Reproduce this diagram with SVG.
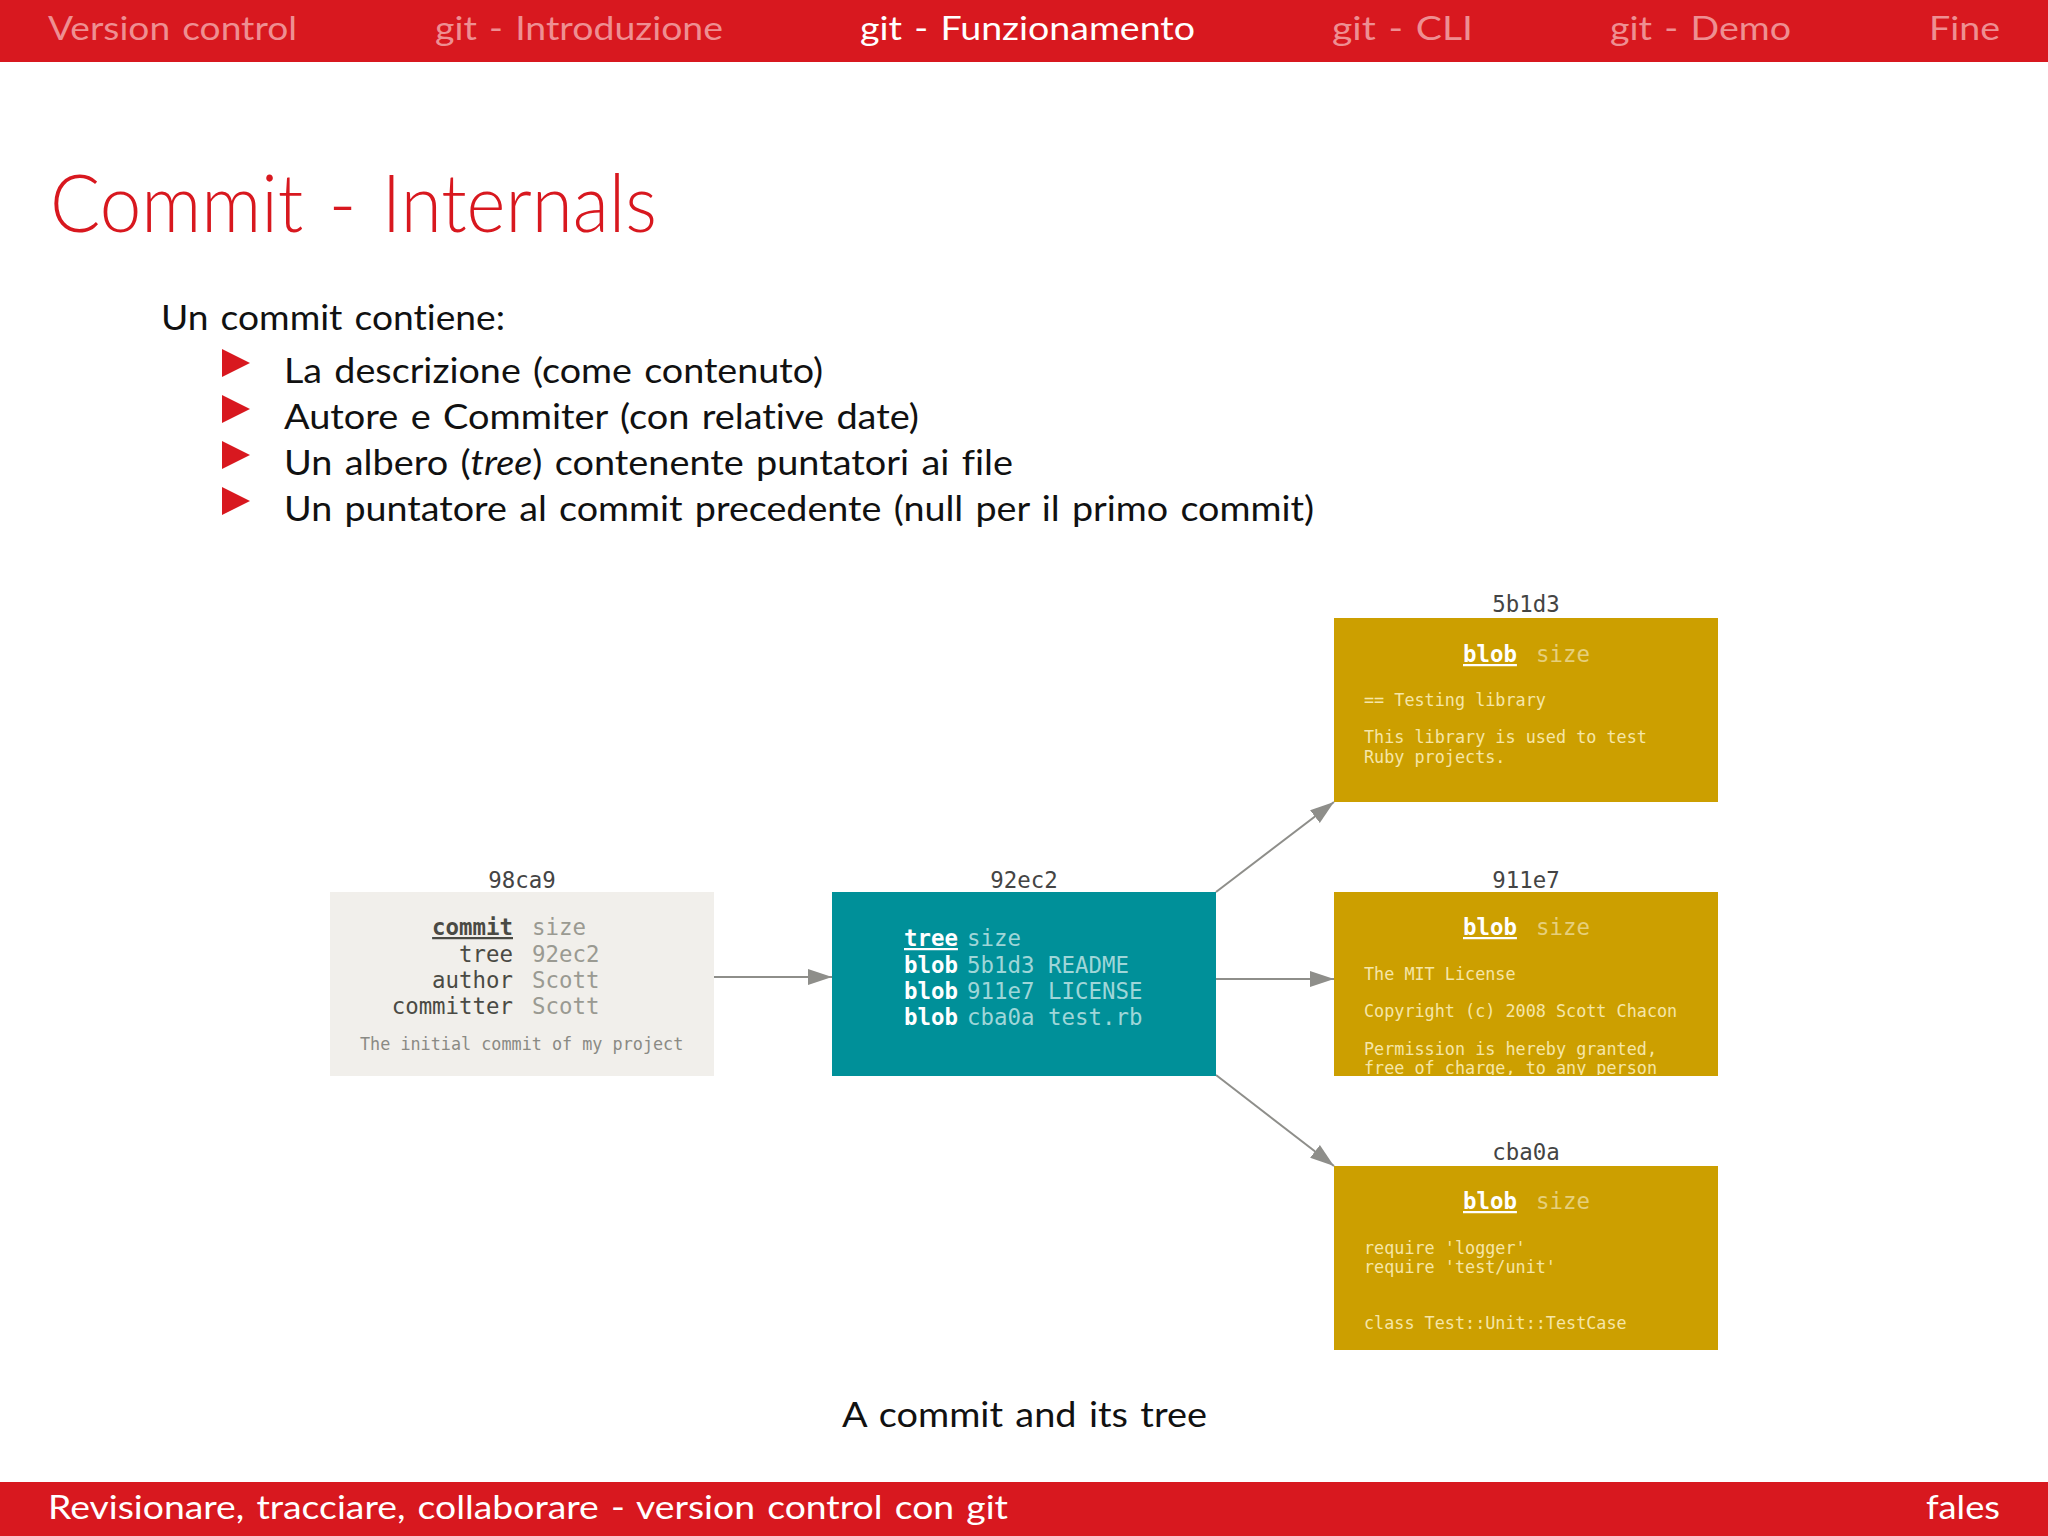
<svg xmlns="http://www.w3.org/2000/svg" width="2048" height="1536" viewBox="0 0 2048 1536">
<style>
.s{font-family:"Lato","Liberation Sans",sans-serif;font-variant-ligatures:none;word-spacing:.07em}
.nav{font-size:33px;fill:#ee8f92}
.body{font-size:34px;fill:#111}
.m{font-family:"DejaVu Sans Mono","Liberation Mono",monospace}
.lab{font-size:22.4px;fill:#444;text-anchor:middle}
.h{font-size:22.4px}
.t{font-size:16.8px}
.b{font-weight:bold;text-decoration:underline}
.gt{fill:#f6e6a8}
.gs{fill:#e6cf7c}
.conn{stroke:#8e8e8a;stroke-width:2;fill:none;marker-end:url(#ah)}
</style>
<defs>
<marker id="ah" markerUnits="userSpaceOnUse" markerWidth="24" markerHeight="18" refX="24" refY="9" orient="auto"><path d="M0 1 L24 9 L0 17 Z" fill="#8e8e8a"/></marker>
<clipPath id="c911"><rect x="1333" y="892" width="385" height="183"/></clipPath>
<polygon id="bul" points="222,349 250,363 222,377" fill="#d8181f"/>
</defs>
<rect width="2048" height="1536" fill="#fff"/>
<g id="header">
<rect width="2048" height="62" fill="#d8181f"/>
<text class="s nav" x="48" y="40" textLength="249" lengthAdjust="spacingAndGlyphs">Version control</text>
<text class="s nav" x="435" y="40" textLength="288" lengthAdjust="spacingAndGlyphs">git - Introduzione</text>
<text class="s nav" x="860" y="40" textLength="335" lengthAdjust="spacingAndGlyphs" style="fill:#fff">git - Funzionamento</text>
<text class="s nav" x="1332" y="40" textLength="141" lengthAdjust="spacingAndGlyphs">git - CLI</text>
<text class="s nav" x="1610" y="40" textLength="181" lengthAdjust="spacingAndGlyphs">git - Demo</text>
<text class="s nav" x="1929" y="40" textLength="71" lengthAdjust="spacingAndGlyphs">Fine</text>
</g>
<text class="s" x="50" y="232" font-size="80" font-weight="300" fill="#d8181f" textLength="607" lengthAdjust="spacingAndGlyphs">Commit - Internals</text>
<g id="list">
<text class="s body" x="161" y="330" textLength="344" lengthAdjust="spacingAndGlyphs">Un commit contiene:</text>
<use href="#bul"/><use href="#bul" y="46"/><use href="#bul" y="92"/><use href="#bul" y="138"/>
<text class="s body" x="284" y="383" textLength="539" lengthAdjust="spacingAndGlyphs">La descrizione (come contenuto)</text>
<text class="s body" x="284" y="429" textLength="635" lengthAdjust="spacingAndGlyphs">Autore e Commiter (con relative date)</text>
<text class="s body" x="284" y="475" textLength="729" lengthAdjust="spacingAndGlyphs">Un albero (<tspan font-style="italic">tree</tspan>) contenente puntatori ai file</text>
<text class="s body" x="284" y="521" textLength="1030" lengthAdjust="spacingAndGlyphs">Un puntatore al commit precedente (null per il primo commit)</text>
</g>
<g id="connectors">
<line class="conn" x1="714" y1="977" x2="832" y2="977"/>
<line class="conn" x1="1216" y1="979" x2="1334" y2="979"/>
<line class="conn" x1="1216" y1="892" x2="1334" y2="802"/>
<line class="conn" x1="1216" y1="1075" x2="1334" y2="1166"/>
</g>
<g id="commit-98ca9" class="m">
<rect x="330" y="892" width="384" height="184" fill="#f1efeb"/>
<text class="lab" x="522" y="888">98ca9</text>
<g class="h" fill="#4a4a44" text-anchor="end">
<text class="b" x="513" y="935">commit</text><text x="513" y="962">tree</text><text x="513" y="988">author</text><text x="513" y="1014">committer</text>
</g>
<g class="h" fill="#9a9a92">
<text x="532" y="935">size</text><text x="532" y="962">92ec2</text><text x="532" y="988">Scott</text><text x="532" y="1014">Scott</text>
</g>
<text class="t" x="360" y="1050" fill="#8a8a84">The initial commit of my project</text>
</g>
<g id="tree-92ec2" class="m">
<rect x="832" y="892" width="384" height="184" fill="#009099"/>
<text class="lab" x="1024" y="888">92ec2</text>
<g class="h" fill="#fff" font-weight="bold">
<text class="b" x="904" y="946">tree</text><text x="904" y="973">blob</text><text x="904" y="999">blob</text><text x="904" y="1025">blob</text>
</g>
<g class="h" fill="#9fd6d8">
<text x="967" y="946">size</text><text x="967" y="973">5b1d3</text><text x="1048" y="973">README</text><text x="967" y="999">911e7</text><text x="1048" y="999">LICENSE</text><text x="967" y="1025">cba0a</text><text x="1048" y="1025">test.rb</text>
</g>
</g>
<g id="blob-5b1d3" class="m">
<rect x="1334" y="618" width="384" height="184" fill="#cc9f00"/>
<text class="lab" x="1526" y="612">5b1d3</text>
<text class="h b" x="1463" y="662" fill="#fff">blob</text><text class="h gs" x="1536" y="662">size</text>
<text class="t gt" x="1364" y="706">== Testing library</text>
<text class="t gt" x="1364" y="743">This library is used to test</text>
<text class="t gt" x="1364" y="763">Ruby projects.</text>
</g>
<g id="blob-911e7" class="m">
<rect x="1334" y="892" width="384" height="184" fill="#cc9f00"/>
<text class="lab" x="1526" y="888">911e7</text>
<text class="h b" x="1463" y="935" fill="#fff">blob</text><text class="h gs" x="1536" y="935">size</text>
<g clip-path="url(#c911)">
<text class="t gt" x="1364" y="980">The MIT License</text>
<text class="t gt" x="1364" y="1017">Copyright (c) 2008 Scott Chacon</text>
<text class="t gt" x="1364" y="1055">Permission is hereby granted,</text>
<text class="t gt" x="1364" y="1074">free of charge, to any person</text>
</g>
</g>
<g id="blob-cba0a" class="m">
<rect x="1334" y="1166" width="384" height="184" fill="#cc9f00"/>
<text class="lab" x="1526" y="1160">cba0a</text>
<text class="h b" x="1463" y="1209" fill="#fff">blob</text><text class="h gs" x="1536" y="1209">size</text>
<text class="t gt" x="1364" y="1254">require 'logger'</text>
<text class="t gt" x="1364" y="1273">require 'test/unit'</text>
<text class="t gt" x="1364" y="1329">class Test::Unit::TestCase</text>
</g>
<text class="s body" x="842" y="1427" textLength="365" lengthAdjust="spacingAndGlyphs">A commit and its tree</text>
<g id="footer">
<rect y="1482" width="2048" height="54" fill="#d8181f"/>
<text class="s nav" x="48" y="1519" textLength="960" lengthAdjust="spacingAndGlyphs" style="fill:#fff">Revisionare, tracciare, collaborare - version control con git</text>
<text class="s nav" x="1926" y="1519" textLength="74" lengthAdjust="spacingAndGlyphs" style="fill:#fff">fales</text>
</g>
</svg>
